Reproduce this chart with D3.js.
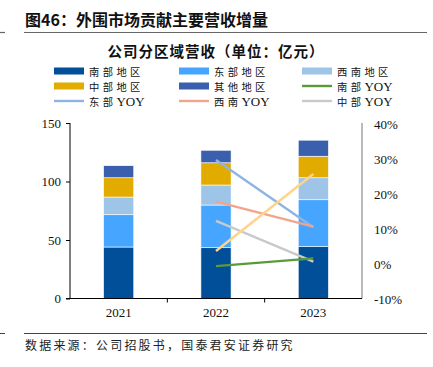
<!DOCTYPE html>
<html><head><meta charset="utf-8">
<script src="https://cdn.jsdelivr.net/npm/d3@7"></script>
<style>body{margin:0;background:#fff}svg{display:block}</style>
</head><body>
<script>
const years = ["2021","2022","2023"];
const regions = ["南部地区","东部地区","西南地区","中部地区","其他地区"];
const south = [44.0, 43.4, 44.3];
const east = [27.6, 36.5, 40.1];
const southwest = [15.1, 17.1, 18.8];
const central = [16.5, 19.0, 18.4];
const other = [10.3, 10.7, 13.7];
const yoyYears = ["2022","2023"];
const southYoy = [-0.6, 1.6];
const eastYoy = [29.7, 10.5];
const southwestYoy = [17.8, 10.7];
const centralYoy = [12.3, 0.7];
const otherYoy = [3.7, 25.7];
const leftTicks = [0, 50, 100, 150];
const rightTicks = [-10, 0, 10, 20, 30, 40];

const barColors = ["#004F98","#46A6FF","#9EC4E8","#E2AB00","#3A60AD"];
const yoyColors = {south:"#5A9B38", east:"#8DB4E2", southwest:"#F2A58A", central:"#C9C9C9", other:"#FFD48A"};

const W = 433, H = 367;
const svg = d3.select("body").append("svg").attr("width", W).attr("height", H);
const serif = "'Liberation Serif','Noto Sans CJK SC',serif";
const cjk = "'Noto Sans CJK SC','Liberation Serif',serif";

// header
svg.append("text").attr("x", 25).attr("y", 26).attr("font-family", cjk).attr("font-weight", "bold")
  .attr("font-size", 16).attr("fill", "#111").text("图46：外围市场贡献主要营收增量");
svg.append("line").attr("x1", 24).attr("x2", 427).attr("y1", 32.5).attr("y2", 32.5).attr("stroke", "#666").attr("stroke-width", 1.2);
svg.append("line").attr("x1", 0).attr("x2", 5).attr("y1", 32.5).attr("y2", 32.5).attr("stroke", "#666").attr("stroke-width", 1.2);
svg.append("text").attr("x", 216).attr("y", 57).attr("text-anchor", "middle").attr("font-family", cjk).attr("font-weight", "bold")
  .attr("font-size", 14.5).attr("letter-spacing", 1).attr("fill", "#111").text("公司分区域营收（单位：亿元）");

// footer
svg.append("line").attr("x1", 24).attr("x2", 427).attr("y1", 333.5).attr("y2", 333.5).attr("stroke", "#444").attr("stroke-width", 1);
svg.append("line").attr("x1", 0).attr("x2", 5).attr("y1", 333.5).attr("y2", 333.5).attr("stroke", "#444").attr("stroke-width", 1);
svg.append("text").attr("x", 25).attr("y", 350).attr("font-family", cjk).attr("font-size", 12).attr("letter-spacing", 2.2).attr("fill", "#222")
  .text("数据来源：公司招股书，国泰君安证券研究");

// scales
const x = d3.scaleBand().domain(years).range([70, 362]).paddingInner(0.69).paddingOuter(0.345);
const yL = d3.scaleLinear().domain([0, 150]).range([298.5, 123]);
const yR = d3.scaleLinear().domain([-10, 40]).range([299, 124]);

// stacked bars
const rows = years.map((yr, i) => ({year: yr, "南部地区": south[i], "东部地区": east[i], "西南地区": southwest[i], "中部地区": central[i], "其他地区": other[i]}));
const stack = d3.stack().keys(regions)(rows);
svg.append("g").selectAll("g").data(stack).join("g").attr("fill", (d, i) => barColors[i])
  .selectAll("rect").data(d => d).join("rect")
  .attr("x", d => x(d.data.year)).attr("width", x.bandwidth())
  .attr("y", d => yL(d[1])).attr("height", d => yL(d[0]) - yL(d[1]))
  .attr("stroke", "#fff").attr("stroke-width", 0.6);

// axes
const gL = svg.append("g").attr("transform", "translate(70,0)")
  .call(d3.axisLeft(yL).tickValues(leftTicks).tickSize(4).tickPadding(5));
gL.selectAll("text").attr("font-family", serif).attr("font-size", 13).attr("fill", "#111");
gL.selectAll("line,path").attr("stroke", "#000");
gL.select(".domain").attr("d", "M0,123V298.5");

const gR = svg.append("g").attr("transform", "translate(362,0)")
  .call(d3.axisRight(yR).tickValues(rightTicks).tickSize(0).tickPadding(12).tickFormat(d => d + "%"));
gR.selectAll("text").attr("font-family", serif).attr("font-size", 13).attr("fill", "#111");
gR.select(".domain").attr("stroke", "#777").attr("d", "M0,123V298.5");

const gX = svg.append("g").attr("transform", "translate(0,298.5)");
gX.append("line").attr("x1", 66).attr("x2", 362).attr("stroke", "#000");
const bounds = [x.step() * 1 + 70, x.step() * 2 + 70];
gX.selectAll("line.t").data(bounds).join("line").attr("class", "t")
  .attr("x1", d => d).attr("x2", d => d).attr("y1", 0).attr("y2", 4).attr("stroke", "#000");
const gXa = svg.append("g").attr("transform", "translate(0,298.5)")
  .call(d3.axisBottom(x).tickSize(0).tickPadding(9));
gXa.select(".domain").remove();
gXa.selectAll("text").attr("font-family", serif).attr("font-size", 13).attr("fill", "#111");

// yoy lines
const cx = yr => x(yr) + x.bandwidth() / 2;
const line = d3.line().x(d => cx(d[0])).y(d => yR(d[1]));
const series = [
  {k: "east", v: eastYoy},
  {k: "southwest", v: southwestYoy},
  {k: "central", v: centralYoy},
  {k: "other", v: otherYoy},
  {k: "south", v: southYoy}
];
svg.append("g").selectAll("path").data(series).join("path")
  .attr("d", s => line(yoyYears.map((yr, i) => [yr, s.v[i]])))
  .attr("fill", "none").attr("stroke", s => yoyColors[s.k]).attr("stroke-width", 2.4);

// legend
const legend = [
  {name: "南部地区", type: "bar", c: barColors[0]},
  {name: "东部地区", type: "bar", c: barColors[1]},
  {name: "西南地区", type: "bar", c: barColors[2]},
  {name: "中部地区", type: "bar", c: barColors[3]},
  {name: "其他地区", type: "bar", c: barColors[4]},
  {name: "南部YOY", type: "line", c: yoyColors.south},
  {name: "东部YOY", type: "line", c: yoyColors.east},
  {name: "西南YOY", type: "line", c: yoyColors.southwest},
  {name: "中部YOY", type: "line", c: yoyColors.central}
];
const colX = [54, 179, 302], rowY = [71, 86, 101];
const lg = svg.append("g").selectAll("g").data(legend).join("g")
  .attr("transform", (d, i) => `translate(${colX[i % 3]},${rowY[Math.floor(i / 3)]})`);
lg.filter(d => d.type === "bar").append("rect").attr("x", 0).attr("y", -3.5).attr("width", 30).attr("height", 7).attr("fill", d => d.c);
lg.filter(d => d.type === "line").append("line").attr("x1", 0).attr("x2", 30).attr("y1", 0).attr("y2", 0).attr("stroke", d => d.c).attr("stroke-width", 2.4);
lg.each(function(d) {
  const g = d3.select(this);
  const m = d.name.match(/^(.*?)(YOY)?$/);
  g.append("text").attr("x", 35).attr("y", 4.5).attr("font-family", cjk).attr("font-size", 10.3)
    .attr("letter-spacing", 3.4).attr("fill", "#111").text(m[1]);
  if (m[2]) g.append("text").attr("x", 35 + m[1].length * 13.7).attr("y", 5).attr("font-family", serif)
    .attr("font-size", 13).attr("fill", "#111").text(m[2]);
});
</script>
</body></html>
